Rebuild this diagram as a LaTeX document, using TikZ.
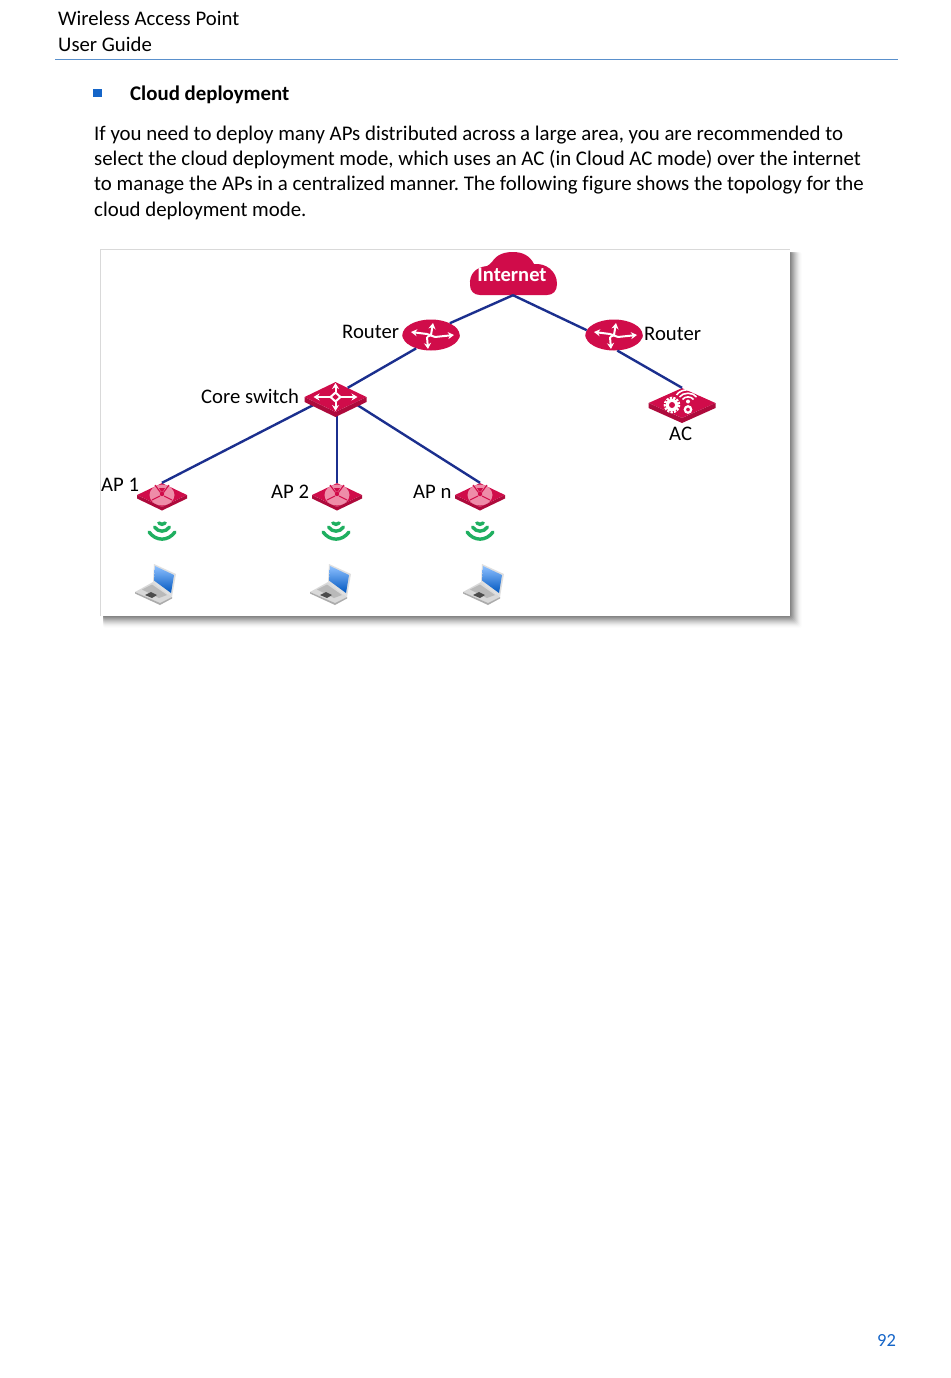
\documentclass[tikz,border=0pt]{standalone}
\usepackage{fontspec}
\setmainfont[Ligatures=NoCommon]{Carlito}
\frenchspacing
\usetikzlibrary{shapes.geometric,arrows.meta,calc}
\definecolor{crim}{HTML}{D00C4A}
\definecolor{crimd}{HTML}{AE0A3C}
\definecolor{pinkc}{HTML}{EE8CA8}
\definecolor{linkc}{HTML}{1B2F8E}
\definecolor{hdr}{HTML}{1565C8}
\definecolor{rulec}{HTML}{5A90CC}
\definecolor{wifig}{HTML}{1FAF60}
\tikzset{
  x=1pt,y=-1pt,
  txt/.style={inner sep=0pt,anchor=base west,font=\fontsize{20.85}{25}\selectfont,text=black},
  lbl/.style={inner sep=0pt,anchor=base west,font=\fontsize{20.7}{24}\selectfont,text=black},
  routerico/.style={ellipse,draw=none,fill=crim,minimum width=57pt,minimum height=31pt,inner sep=0pt},
  switchico/.style={diamond,draw=none,fill=crim,minimum width=62pt,minimum height=30pt,inner sep=0pt},
  apico/.style={diamond,draw=none,fill=crim,minimum width=50pt,minimum height=24pt,inner sep=0pt},
  acico/.style={diamond,draw=none,fill=crim,minimum width=67pt,minimum height=30pt,inner sep=0pt},
  conn/.style={draw=linkc,line width=2.4pt},
  wht/.style={draw=white,line width=2pt,-{Stealth[length=6pt,width=7pt]}},
  wifiarc/.style={draw=wifig,line width=3.4pt,line cap=round},
}
\newcommand{\slabedge}[5]{
  \fill[crimd,shift={(#1,#2)}] (-#3,0) -- (0,#4) -- (#3,0) -- (#3,#5) -- (0,#4+#5) -- (-#3,#5) -- cycle;}
\newcommand{\routerglyph}[2]{
  \begin{scope}[shift={(#1,#2)}]
    \fill[crimd] (-28.5,-2) -- (-28.5,1) arc[start angle=180,end angle=360,x radius=28.5,y radius=15] -- (28.5,-2) -- cycle;
    \fill[crim] (0,-2) ellipse[x radius=28.5,y radius=13.5];
    \draw[wht] (-4,-3) -- (-20,-5);
    \draw[wht] (0,-2) -- (2,-14);
    \draw[wht] (4,0) -- (23,-2);
    \draw[wht] (-4,0) -- (-3,12);
    \draw[white,line width=2pt] (-4,-3) -- (4,0);
    \draw[white,line width=2pt] (0,-2) -- (-4,0);
  \end{scope}}
\newcommand{\switchglyph}[2]{
  \begin{scope}[shift={(#1,#2)}]
    \draw[wht] (-5,0) -- (-22,0);
    \draw[wht] (5,0) -- (22,0);
    \draw[wht] (0,-5) -- (0,-14);
    \draw[wht] (0,5) -- (0,14);
    \draw[white,line width=2pt,rounded corners=1pt] (-5,0) -- (0,-4.5) -- (5,0) -- (0,4.5) -- cycle;
  \end{scope}}
\newcommand{\apglyph}[2]{
  \begin{scope}[shift={(#1,#2)}]
    \fill[pinkc] (0,0) ellipse[x radius=12.5,y radius=10.5];
    \draw[crim,line width=1.1pt] (-7,-10) -- (-1.5,-2.5);
    \draw[crim,line width=1.1pt] (7,-10) -- (1.5,-2.5);
    \draw[crim,line width=1.1pt] (-10,5) -- (-2,1);
    \draw[crim,line width=1.1pt] (10,5) -- (2,1);
    \fill[crim] (-3,-7) -- (3,-7) -- (1,-3.5) -- (-1,-3.5) -- cycle;
    \fill[crim] (0,-1) circle[radius=2.2];
  \end{scope}}
\newcommand{\acglyph}[2]{
  \begin{scope}[shift={(#1,#2)}]
    \draw[white,line width=2.6pt,dash pattern=on 2.2pt off 1.2pt] (-10,2) circle[radius=7];
    \fill[white] (-10,2) circle[radius=6.2];
    \fill[crim] (-10,2) circle[radius=3];
    \draw[white,line width=2.2pt] (6,6.5) circle[radius=3.2];
    \fill[white] (6,-1.5) circle[radius=2];
    \draw[white,line width=1.6pt] (0.5,-3.5) .. controls (3,-7) and (9,-7) .. (11.5,-3.5);
    \draw[white,line width=1.6pt] (-2.5,-6) .. controls (1,-11) and (11,-11) .. (14.5,-6);
    \draw[white,line width=1.6pt] (-5.5,-8) .. controls (-1,-15) and (13,-15) .. (17.5,-8);
  \end{scope}}
\newcommand{\wifiglyph}[2]{
  \begin{scope}[shift={(#1,#2)}]
    \draw[wifiarc] (-3.2,-8) .. controls (-1,-6.2) and (1,-6.2) .. (3.2,-8);
    \draw[wifiarc] (-7.5,-4) .. controls (-4,1.5) and (4,1.5) .. (7.5,-4);
    \draw[wifiarc] (-13,1) .. controls (-6,10.5) and (6,10.5) .. (13,1);
  \end{scope}}
\newcommand{\laptopglyph}[2]{
  \begin{scope}[shift={(#1,#2)}]
    \fill[gray!30] (-27,28) -- (-2,39) -- (10,33) -- (-9,18) -- cycle;
    \fill[gray!65] (-27,28) -- (-2,39) -- (10,33) -- (10,34.5) -- (-2,41) -- (-27,29.5) -- cycle;
    \fill[gray!55] (-20,25.5) -- (-10,20.5) -- (5,31) -- (-3,34) -- cycle;
    \fill[black!70] (-17,31) -- (-11,28) -- (-5,31) -- (-10,34) -- cycle;
    \fill[gray!25] (-8,0) -- (14,10) -- (10,33) -- (-9,18) -- cycle;
    \shade[top color=cyan!45!blue!45!white,bottom color=blue!55!cyan!75!black] (-7,2) -- (12,11) -- (9,29) -- (-8,16.5) -- cycle;
  \end{scope}}
\begin{document}
\begin{tikzpicture}
\useasboundingbox (0,0) rectangle (950,1378);
\fill[white] (0,0) rectangle (950,1378);
% header
\node[txt,font=\fontsize{20.75}{25}\selectfont] (h1) at (58,26) {Wireless Access Point};
\node[txt,font=\fontsize{20.75}{25}\selectfont] (h2) at (58,52) {User Guide};
\draw[rulec,line width=1pt] (55,59.5) -- (898,59.5);
\fill[hdr] (93,89) rectangle (102,97);
\node[txt,font=\fontsize{20.85}{25}\selectfont\bfseries] (sec) at (130,101) {Cloud deployment};
\node[txt] (p1) at (94,140) {If you need to deploy many APs distributed across a large area, you are recommended to};
\node[txt] (p2) at (94,165) {select the cloud deployment mode, which uses an AC (in Cloud AC mode) over the internet};
\node[txt] (p3) at (94,190) {to manage the APs in a centralized manner. The following figure shows the topology for the};
\node[txt] (p4) at (94,216) {cloud deployment mode.};
\node[txt,text=hdr,font=\fontsize{18.5}{22}\selectfont] (pg) at (877,1346) {92};
% figure frame with soft shadow
\foreach \d in {12,11,...,1}{
  \pgfmathsetmacro{\op}{.008*(13-\d)}
  \fill[black,opacity=\op,rounded corners=2pt] (103,252) rectangle (790+\d,616+\d);
}
\fill[white] (100,249) rectangle (790,616);
\draw[gray!30,line width=1pt] (100,249) -- (790,249);
\draw[gray!30,line width=1pt] (100,249) -- (100,616);
% Internet cloud
\node[inner sep=0pt,minimum width=88pt,minimum height=43pt] (inet) at (513,273.5) {};
\fill[crim] (470,285)
  .. controls (469,274) and (476,267) .. (487,266)
  .. controls (489,265) and (490,264) .. (492,262)
  .. controls (497,254) and (505,252) .. (513,252)
  .. controls (523,252) and (530,256) .. (534,264)
  .. controls (546,263) and (557,271) .. (557,284)
  .. controls (557,291) and (553,295) .. (547,295)
  -- (480,295) .. controls (474,295) and (470,291) .. (470,285) -- cycle;
\node[inner sep=0pt,anchor=base,text=white,font=\fontsize{20.5}{24}\selectfont\bfseries] (inettxt) at (512,281) {Internet};
% devices and connectors
\node[routerico] (r1) at (431,335) {};
\node[routerico] (r2) at (614,335) {};
\node[switchico] (sw) at (335.5,397) {};
\node[acico] (ac) at (682,403) {};
\node[apico] (ap1) at (162,495) {};
\node[apico] (ap2) at (337,495) {};
\node[apico] (apn) at (480,495) {};
\draw[conn] (inet.south) -- (r1.32);
\draw[conn] (inet.south) -- (r2.170);
\draw[conn] (r1.222) -- (sw.37);
\draw[conn] (r2.-78) -- (ac.north);
\draw[conn] (sw.west) ++(11,7) -- (ap1.north);
\draw[conn] (ap2.north |- sw.south) -- ++(0,5) -- (ap2.north);
\draw[conn] (sw.east) ++(-11,7) -- (apn.north);
% device glyphs
\routerglyph{431}{337}
\routerglyph{614}{337}
\slabedge{335.5}{397}{31}{15}{5}
\switchglyph{335.5}{397}
\slabedge{682}{403}{33.5}{15}{5}
\acglyph{682}{403}
\slabedge{162}{495}{25}{12}{3.5}
\apglyph{162}{495}
\slabedge{337}{495}{25}{12}{3.5}
\apglyph{337}{495}
\slabedge{480}{495}{25}{12}{3.5}
\apglyph{480}{495}
% labels
\node[lbl] (lr1) at (342,338) {Router};
\node[lbl] (lr2) at (644,340) {Router};
\node[lbl] (lcs) at (201,403) {Core switch};
\node[lbl] (lac) at (669,440) {AC};
\node[lbl] (la1) at (101,491) {AP 1};
\node[lbl] (la2) at (271,498) {AP 2};
\node[lbl] (lan) at (413,498) {AP n};
% wifi
\wifiglyph{162}{531}
\wifiglyph{336}{531}
\wifiglyph{480}{531}
% laptops
\laptopglyph{162}{564}
\laptopglyph{337}{564}
\laptopglyph{490}{564}
\end{tikzpicture}
\end{document}
